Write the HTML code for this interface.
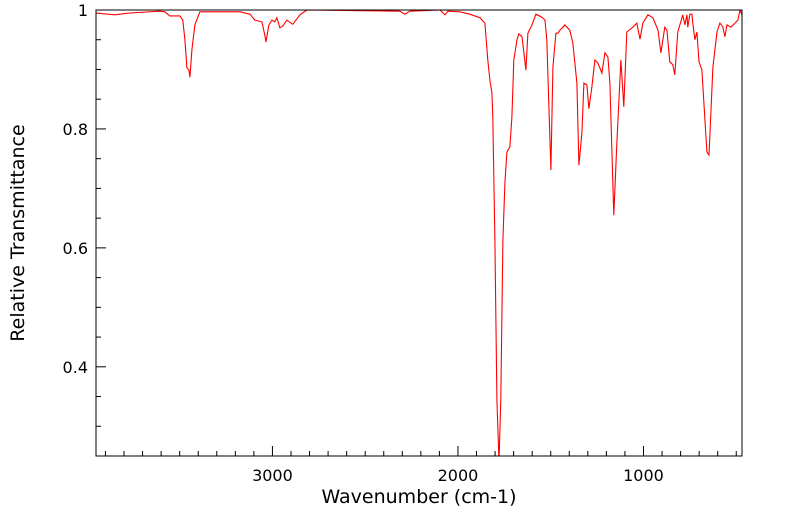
<!DOCTYPE html>
<html><head><meta charset="utf-8"><style>
body{margin:0;background:#fff;}
svg{display:block;font-family:"DejaVu Sans","Liberation Sans",sans-serif;}
</style></head><body>
<svg id="chart" width="799" height="516" viewBox="0 0 799 516">
<defs><clipPath id="clip"><rect x="96" y="10" width="646" height="446"/></clipPath></defs>
<g id="ticks"></g>
<path id="spec" fill="none" stroke="#ff0000" stroke-width="1.1" clip-path="url(#clip)"/>
<rect x="96" y="10" width="646" height="446" fill="none" stroke="#000" stroke-width="1"/>
<text x="419" y="503" font-size="19" text-anchor="middle">Wavenumber (cm-1)</text>
<text transform="translate(24,233) rotate(-90)" font-size="19" text-anchor="middle">Relative Transmittance</text>
</svg>
<script>
const wavenumbers=[3952,3849,3768,3607,3580,3553,3499,3483,3472,3461,3450,3445,3434,3418,3391,3175,3121,3095,3057,3041,3035,3019,3003,2987,2976,2960,2944,2922,2890,2852,2814,2313,2286,2259,2097,2070,2054,1990,1936,1882,1855,1839,1828,1817,1812,1801,1790,1779,1769,1758,1747,1736,1720,1709,1699,1682,1672,1655,1634,1623,1601,1580,1548,1531,1521,1499,1488,1472,1461,1451,1434,1424,1397,1381,1359,1348,1332,1321,1305,1294,1278,1262,1246,1224,1208,1192,1181,1160,1143,1122,1106,1090,1057,1036,1019,1003,976,949,922,906,885,874,858,842,831,815,788,777,766,761,750,739,734,723,712,701,685,658,647,626,604,588,572,561,550,529,507,491,480,464];
const transmittance=[.995,.992,.995,.998,.997,.990,.990,.983,.950,.903,.899,.887,.933,.975,.997,.997,.993,.983,.980,.958,.946,.975,.983,.980,.987,.970,.973,.983,.976,.992,1.0,.998,.993,.998,1.0,.992,.998,.997,.993,.987,.978,.916,.882,.861,.820,.613,.345,.24,.345,.613,.709,.761,.770,.820,.916,.950,.960,.955,.899,.961,.975,.993,.988,.983,.950,.731,.904,.961,.961,.966,.971,.975,.966,.945,.877,.739,.793,.877,.874,.834,.871,.916,.911,.894,.928,.921,.877,.655,.782,.916,.837,.963,.971,.978,.951,.978,.992,.987,.966,.928,.971,.966,.913,.908,.891,.963,.992,.975,.992,.971,.993,.993,.978,.950,.963,.913,.899,.761,.756,.904,.963,.978,.971,.955,.975,.971,.978,.983,1.0,.988];
const xTicksMajor=[3000,2000,1000];
const yTicksMajor=[1,0.8,0.6,0.4];
const yLabels=["1","0.8","0.6","0.4"];
const X0=96,X1=742,Y0=10,Y1=456,WL=3951,WR=469,TMAX=1,TMIN=0.25;
function xs(w){return X0+(WL-w)/(WL-WR)*(X1-X0);}
function ys(t){return Y0+(TMAX-t)/(TMAX-TMIN)*(Y1-Y0);}
const NS="http://www.w3.org/2000/svg";
let d="";
for(let i=0;i<wavenumbers.length;i++){d+=(i?"L":"M")+xs(wavenumbers[i]).toFixed(1)+","+ys(transmittance[i]).toFixed(1);}
document.getElementById("spec").setAttribute("d",d);
const g=document.getElementById("ticks");
function line(x1,y1,x2,y2,name){const l=document.createElementNS(NS,"line");l.setAttribute("x1",x1);l.setAttribute("y1",y1);l.setAttribute("x2",x2);l.setAttribute("y2",y2);l.setAttribute("stroke","#000");


g.appendChild(l);}
function text(x,y,s,anchor,name){const t=document.createElementNS(NS,"text");t.setAttribute("x",x);t.setAttribute("y",y);t.setAttribute("font-size","16");t.setAttribute("text-anchor",anchor);t.textContent=s;


g.appendChild(t);}
for(let w=3900;w>=500;w-=100){const x=xs(w);const major=w%1000===0;line(x,Y1,x,Y1-(major?10:5),"x-tick");}
xTicksMajor.forEach(w=>text(xs(w),481,String(w),"middle","x-tick-label"));
for(let k=0;k<=15;k++){const t=0.25+k*0.05;const y=ys(t);const major=Math.abs((t*10)%2)<0.01||Math.abs((t*10)%2-2)<0.01;line(X0,y,X0+(major?10:5),y,"y-tick");}
yTicksMajor.forEach((t,i)=>text(88,ys(t)+6,yLabels[i],"end","y-tick-label"));
</script>
</body></html>
